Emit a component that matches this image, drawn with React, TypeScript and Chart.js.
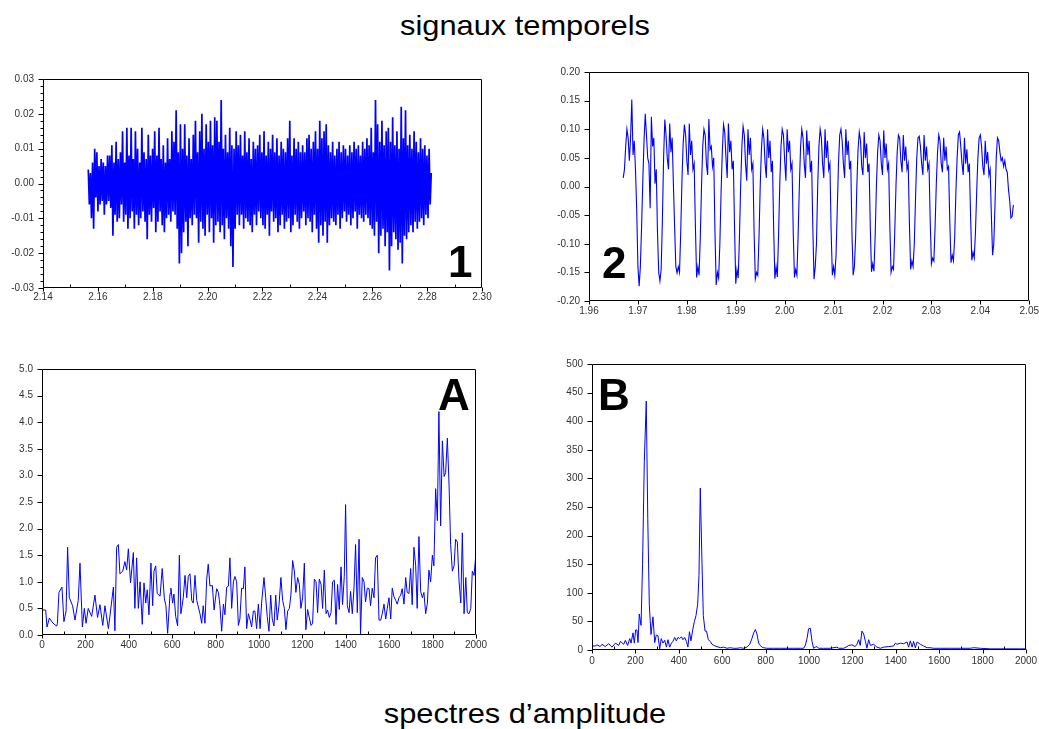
import React, { useEffect, useRef } from 'react';
import { Chart, registerables } from 'chart.js';

Chart.register(...registerables);

// ---------- Panel 1 : signal temporel (bruit) ----------
const sig1Start = 2.1565;
const sig1Step = 0.000390625;
const sig1Values = [
  .004,-.006,.003,-.010,.006,-.013,.010,-.004,.009,-.008,.005,-.006,.007,-.005,.006,-.009,.005,-.006,.008,-.005,
  .008,-.007,.011,-.015,.006,-.009,.012,-.011,.007,-.010,.009,-.006,.015,-.011,.006,-.009,.016,-.013,.008,-.010,
  .016,-.008,.007,-.013,.015,-.009,.010,-.012,.006,-.010,.016,-.008,.009,-.011,.007,-.016,.014,-.009,.008,-.011,
  .010,-.007,.015,-.014,.008,-.011,.016,-.008,.007,-.012,.011,-.014,.006,-.010,.013,-.009,.007,-.011,.015,-.008,
  .012,-.009,.021,-.013,.009,-.023,.017,-.020,.010,-.014,.017,-.011,.008,-.018,.013,-.010,.007,-.012,.014,-.009,
  .018,-.010,.009,-.017,.015,-.011,.020,-.013,.010,-.015,.017,-.009,.012,-.014,.018,-.010,.011,-.017,.019,-.012,
  .018,-.011,.012,-.014,.024,-.012,.010,-.016,.014,-.010,.009,-.013,.016,-.018,.011,-.024,.010,-.013,.015,-.009,
  .011,-.012,.014,-.009,.008,-.013,.015,-.010,.009,-.011,.013,-.012,.007,-.014,.012,-.009,.010,-.012,.011,-.008,
  .014,-.010,.009,-.012,.015,-.013,.008,-.009,.012,-.015,.010,-.008,.014,-.011,.009,-.010,.013,-.014,.008,-.012,
  .012,-.009,.010,-.013,.009,-.011,.013,-.010,.018,-.014,.008,-.012,.013,-.009,.010,-.011,.012,-.013,.009,-.010,
  .011,-.008,.009,-.012,.013,-.010,.014,-.011,.010,-.014,.012,-.009,.015,-.013,.010,-.017,.018,-.012,.013,-.015,
  .015,-.011,.017,-.017,.011,-.012,.009,-.010,.012,-.011,.008,-.012,.010,-.009,.012,-.013,.009,-.010,.011,-.008,
  .010,-.011,.008,-.009,.011,-.012,.009,-.010,.012,-.008,.010,-.013,.011,-.009,.008,-.010,.012,-.011,.010,-.009,
  .013,-.010,.011,-.012,.016,-.013,.009,-.015,.024,-.011,.017,-.020,.012,-.015,.018,-.013,.011,-.018,.015,-.014,
  .016,-.025,.012,-.018,.019,-.014,.011,-.016,.015,-.019,.010,-.017,.022,-.023,.013,-.015,.021,-.016,.011,-.014,
  .014,-.012,.010,-.014,.015,-.011,.012,-.013,.009,-.011,.013,-.010,.010,-.012,.011,-.009,.008,-.010,.010,-.006,
  .003,
];

// ---------- Panel 2 : signal temporel (périodique) ----------
const sig2Start = 1.967;
const sig2Step = 0.00025;
const sig2Values = [
  .015,.03,.07,.10,.085,.045,.085,.152,.055,.08,.03,-.04,-.14,
  -.174,-.14,-.07,.01,.08,.127,.09,.05,.04,-.038,.122,.07,.085,.005,.03,-.08,-.15,
  -.165,-.145,-.06,.05,.117,.09,.05,.03,.11,.06,.085,.005,-.07,-.14,
  -.151,-.14,-.15,-.08,.01,.075,.108,.09,.045,.02,.11,.055,.08,.03,.04,-.07,
  -.159,-.14,-.155,-.09,0,.07,.10,.09,.04,.02,.118,.065,.07,.035,.05,-.08,
  -.172,-.15,-.16,-.10,-.01,.06,.108,.095,.05,.015,.11,.06,.08,.03,.045,-.07,
  -.170,-.145,-.16,-.09,0,.07,.105,.09,.04,.01,.10,.055,.085,.03,.04,-.08,
  -.161,-.15,-.155,-.09,0,.065,.10,.085,.04,.015,.10,.05,.08,.025,.045,-.075,
  -.161,-.14,-.158,-.085,.005,.07,.10,.09,.045,.01,.10,.06,.08,.03,.04,-.08,
  -.159,-.145,-.155,-.085,0,.07,.10,.085,.04,.015,.098,.055,.08,.025,.045,-.07,
  -.162,-.14,-.10,0,.07,.10,.085,.04,.015,.10,.05,.08,.03,.04,-.08,
  -.155,-.14,-.155,-.12,-.04,.04,.09,.10,.08,.04,.015,.10,.055,.08,.03,.045,-.08,
  -.155,-.14,-.09,0,.065,.095,.08,.035,.02,.095,.05,.075,.025,.04,-.07,
  -.149,-.135,-.148,-.085,0,.06,.09,.08,.04,.02,.098,.05,.075,.03,.04,-.07,
  -.150,-.14,-.145,-.08,0,.06,.09,.085,.045,.025,.09,.045,.07,.03,.04,-.065,
  -.145,-.13,-.14,-.10,-.02,.05,.085,.088,.07,.04,.02,.09,.045,.07,.03,.04,-.06,
  -.135,-.125,-.13,-.07,.005,.06,.09,.08,.04,.025,.085,.045,.07,.03,.035,-.06,
  -.133,-.12,-.13,-.09,-.01,.05,.09,.095,.07,.04,.02,.085,.04,.065,.025,.04,-.05,
  -.129,-.115,-.125,-.08,-.01,.05,.085,.09,.07,.035,.02,.08,.04,.06,.02,.03,-.05,
  -.12,-.10,-.03,.05,.085,.08,.06,.045,.05,.035,.045,.03,.025,-.005,-.025,-.055,-.052,-.032,
];

// ---------- Panel A : spectre d'amplitude ----------
const freqA = [
  0,17,23,34,45,57,68,71,78,92,
  101,111,118,126,141,152,167,175,186,195,
  203,213,229,244,256,267,280,290,306,329,
  336,344,352,359,372,382,390,398,408,421,
  428,436,444,452,462,470,478,485,493,502,
  510,516,524,531,544,554,564,571,579,590,
  594,602,608,616,625,633,640,651,659,667,
  674,682,690,697,705,713,728,736,743,751,
  759,766,774,785,793,805,813,820,828,836,
  843,851,859,866,874,882,889,897,905,912,
  920,928,935,943,951,958,966,974,981,989,
  997,1005,1012,1023,1031,1038,1046,1054,1061,1069,
  1077,1084,1092,1101,1109,1117,1124,1132,1140,1147,
  1155,1163,1170,1178,1186,1193,1201,1209,1216,1224,
  1232,1240,1247,1255,1263,1270,1278,1286,1293,1301,
  1309,1316,1324,1332,1339,1347,1355,1362,1370,1378,
  1385,1393,1399,1407,1415,1422,1430,1438,1445,1453,
  1461,1468,1476,1484,1491,1499,1507,1514,1522,1530,
  1537,1545,1553,1561,1568,1576,1584,1591,1599,1607,
  1614,1622,1630,1637,1645,1653,1660,1668,1676,1683,
  1691,1699,1706,1714,1722,1729,1737,1745,1753,1760,
  1768,1776,1783,1791,1799,1806,1814,1822,1829,1837,
  1845,1853,1860,1868,1876,1883,1891,1899,1906,1914,
  1922,1930,1937,1945,1953,1960,1968,1976,1983,1991,
  2000,
];
const ampA = [
  .47,.47,.15,.32,.25,.2,.17,.22,.8,.9,
  .25,.45,1.65,.7,.55,.28,.65,1.35,.15,.5,
  .22,.5,.35,.75,.33,.57,.18,.55,.12,.9,
  .08,1.65,1.7,1.15,1.2,1.38,1.22,1.62,.98,1.55,
  .5,1.45,.5,1.0,.2,.98,.6,.85,.38,1.35,
  .55,1.2,1.3,.78,.73,1.25,.68,.55,.03,.78,
  .88,.6,.77,.35,.17,1.5,.4,.7,1.12,.7,
  1.1,1.15,.65,.6,1.12,.65,.4,.22,.55,.22,
  1.05,1.33,.92,.93,.47,.87,.8,.55,.07,.58,
  .38,.9,.92,1.45,.5,1.0,1.1,1.0,.18,.3,
  .88,.87,1.28,.12,.4,.3,.15,.45,.45,.12,
  .58,.12,.6,1.08,.7,.35,.07,.75,.3,.17,
  .75,.28,.55,1.08,.65,.5,.1,.45,.5,.75,
  1.4,1.2,.8,1.08,.95,.5,.7,1.35,.1,.48,
  .32,.18,.22,1.05,1.0,.42,1.05,.95,.5,1.22,
  .4,.47,.33,.42,1.0,1.03,.2,.95,.48,1.28,
  .57,1.1,2.45,.55,.42,.82,.4,.9,1.7,.42,
  1.8,.02,1.08,1.0,.62,.88,.87,.55,.88,.7,
  1.45,1.5,.28,.28,.4,.58,.3,.5,.7,.3,
  .88,.72,.65,.58,.7,.75,.87,.58,1.08,.8,
  .78,1.25,.57,1.65,1.3,.5,1.85,.82,.7,.8,
  .4,.6,1.22,1.0,1.5,1.3,2.75,2.15,4.2,2.05,
  3.65,2.98,3.05,3.7,2.8,1.7,1.2,1.3,1.8,1.75,
  1.0,.6,1.92,.4,1.08,.42,.4,.5,1.2,1.12,
  1.55,
];

// ---------- Panel B : spectre d'amplitude ----------
const freqB = [
  0,15,23,38,46,61,77,92,108,123,
  131,146,154,164,174,180,189,195,201,207,
  212,218,226,233,241,250,257,264,272,281,
  289,296,304,312,319,327,335,343,350,358,
  366,373,381,389,396,404,412,419,427,435,
  442,449,456,464,472,479,487,493,499,507,
  513,521,528,536,545,553,561,576,591,607,
  622,637,653,668,684,699,714,727,737,745,
  753,760,768,776,783,791,806,837,868,899,
  929,960,975,983,991,998,1006,1014,1021,1029,
  1037,1044,1068,1098,1129,1137,1160,1175,1183,1198,
  1213,1221,1229,1236,1244,1252,1260,1267,1275,1283,
  1298,1313,1329,1344,1367,1390,1398,1405,1421,1436,
  1452,1459,1467,1475,1482,1490,1498,1513,1528,1544,
  1559,1574,1605,1651,1697,1743,1759,1790,1836,1882,
  1928,1974,2000,
];
const ampB = [
  7,7,9,6,10,6,11,5,12,8,
  15,10,17,8,20,12,30,12,35,35,
  13,63,43,150,330,435,230,80,27,58,
  13,26,25,2,20,12,17,5,18,5,
  12,15,22,16,22,20,23,18,22,15,
  5,32,16,35,50,60,80,130,283,150,
  60,33,33,18,15,10,8,6,4,5,
  3,4,3,3,4,3,5,10,20,30,
  36,28,12,8,5,4,3,3,3,3,
  3,3,3,8,20,37,38,15,3,5,
  6,3,3,3,5,3,3,6,8,9,
  6,10,18,8,33,28,15,3,18,8,
  10,5,3,5,6,7,12,10,12,11,
  14,5,16,5,15,4,14,10,7,4,
  4,3,3,3,3,3,4,3,2,2,
  2,2,2,
];

// ---------- layout ----------
const FONT = '"Liberation Sans", Arial, Helvetica, sans-serif';
const BLUE = '#0000ff';

type Pt = { x: number; y: number };

interface Panel {
  left: number; top: number; w: number; h: number;
  padTop: number; padRight: number; yWidth: number; xHeight: number;
  xMin: number; xMax: number; xStep: number; xDec: number; xMinor: number;
  yMin: number; yMax: number; yStep: number; yDec: number; yMinor: number;
  xPad: number; lineWidth: number;
  points: Pt[];
}

const pts1: Pt[] = sig1Values.map((v, i) => ({ x: sig1Start + i * sig1Step, y: v }));
const pts2: Pt[] = sig2Values.map((v, i) => ({ x: sig2Start + i * sig2Step, y: v }));
const ptsA: Pt[] = freqA.map((f, i) => ({ x: f, y: ampA[i] }));
const ptsB: Pt[] = freqB.map((f, i) => ({ x: f, y: ampB[i] }));

const panels: Panel[] = [
  { left: 0, top: 60, w: 500, h: 250, padTop: 19, padRight: 18, yWidth: 43, xHeight: 22,
    xMin: 2.14, xMax: 2.30, xStep: 0.02, xDec: 2, xMinor: 0.01,
    yMin: -0.03, yMax: 0.03, yStep: 0.01, yDec: 2, yMinor: 0.002, xPad: -1, lineWidth: 1.7, points: pts1 },
  { left: 540, top: 55, w: 499, h: 270, padTop: 17, padRight: 9, yWidth: 49, xHeight: 24,
    xMin: 1.96, xMax: 2.05, xStep: 0.01, xDec: 2, xMinor: 0,
    yMin: -0.20, yMax: 0.20, yStep: 0.05, yDec: 2, yMinor: 0, xPad: 0, lineWidth: 1.1, points: pts2 },
  { left: 0, top: 350, w: 500, h: 310, padTop: 19, padRight: 24, yWidth: 42, xHeight: 25,
    xMin: 0, xMax: 2000, xStep: 200, xDec: 0, xMinor: 100,
    yMin: 0, yMax: 5, yStep: 0.5, yDec: 1, yMinor: 0, xPad: 0.5, lineWidth: 1, points: ptsA },
  { left: 540, top: 345, w: 499, h: 325, padTop: 19, padRight: 13, yWidth: 52, xHeight: 20,
    xMin: 0, xMax: 2000, xStep: 200, xDec: 0, xMinor: 100,
    yMin: 0, yMax: 500, yStep: 50, yDec: 0, yMinor: 0, xPad: 1, lineWidth: 1, points: ptsB },
];

const fmt = (v: number, d: number) => (Math.abs(v) < 1e-9 ? 0 : v).toFixed(d);

function makeFrame(p: Panel) {
  return {
    id: 'frameTicks',
    afterDraw(chart: any) {
      const { ctx, chartArea: a } = chart;
      const xs = chart.scales.x;
      const ys = chart.scales.y;
      const L = Math.round(a.left) + 0.5;
      const R = Math.round(a.right) - 0.5;
      const T = Math.round(a.top) + 0.5;
      const B = Math.round(a.bottom) - 0.5;
      ctx.save();
      ctx.strokeStyle = '#000';
      ctx.lineWidth = 1;
      ctx.beginPath();
      ctx.rect(L, T, R - L, B - T);
      xs.ticks.forEach((t: any) => {
        const x = Math.round(xs.getPixelForValue(t.value)) + 0.5;
        ctx.moveTo(x, B); ctx.lineTo(x, B + 4);
      });
      ys.ticks.forEach((t: any) => {
        const y = Math.round(ys.getPixelForValue(t.value)) + 0.5;
        ctx.moveTo(L, y); ctx.lineTo(L - 5, y);
      });
      if (p.xMinor) {
        const n = Math.round((p.xMax - p.xMin) / p.xMinor);
        for (let i = 0; i <= n; i++) {
          const v = p.xMin + i * p.xMinor;
          const k = (v - p.xMin) / p.xStep;
          if (Math.abs(k - Math.round(k)) < 1e-6) continue;
          const x = Math.round(xs.getPixelForValue(v)) + 0.5;
          ctx.moveTo(x, B); ctx.lineTo(x, B - 3);
        }
      }
      if (p.yMinor) {
        const n = Math.round((p.yMax - p.yMin) / p.yMinor);
        for (let i = 0; i <= n; i++) {
          const v = p.yMin + i * p.yMinor;
          const k = (v - p.yMin) / p.yStep;
          if (Math.abs(k - Math.round(k)) < 1e-6) continue;
          const y = Math.round(ys.getPixelForValue(v)) + 0.5;
          ctx.moveTo(L, y); ctx.lineTo(L - 3, y);
        }
      }
      ctx.stroke();
      ctx.restore();
    },
  };
}

function PanelChart({ p }: { p: Panel }) {
  const ref = useRef<HTMLCanvasElement>(null);
  useEffect(() => {
    const canvas = ref.current;
    if (!canvas) return;
    const tickFont = { family: FONT, size: 10 };
    const chart = new Chart(canvas, {
      type: 'line',
      data: {
        datasets: [{
          data: p.points,
          borderColor: BLUE,
          borderWidth: p.lineWidth,
          pointRadius: 0,
          fill: false,
          tension: 0,
        }],
      },
      options: {
        animation: false,
        responsive: false,
        maintainAspectRatio: false,
        events: [],
        layout: { padding: { top: p.padTop, right: p.padRight, left: 0, bottom: 0 } },
        plugins: { legend: { display: false }, tooltip: { enabled: false }, title: { display: false } },
        scales: {
          x: {
            type: 'linear',
            min: p.xMin,
            max: p.xMax,
            afterFit: (s: any) => { s.height = p.xHeight; },
            grid: { display: false, drawTicks: true, tickLength: 4 },
            border: { display: false },
            ticks: {
              stepSize: p.xStep,
              autoSkip: false,
              maxRotation: 0,
              minRotation: 0,
              padding: p.xPad,
              color: '#333',
              font: tickFont,
              callback: (v: any) => fmt(Number(v), p.xDec),
            },
          },
          y: {
            type: 'linear',
            min: p.yMin,
            max: p.yMax,
            afterFit: (s: any) => { s.width = p.yWidth; },
            grid: { display: false, drawTicks: true, tickLength: 5 },
            border: { display: false },
            ticks: {
              stepSize: p.yStep,
              autoSkip: false,
              padding: 4,
              color: '#333',
              font: tickFont,
              callback: (v: any) => fmt(Number(v), p.yDec),
            },
          },
        },
      } as any,
      plugins: [makeFrame(p)],
    });
    return () => chart.destroy();
  }, [p]);
  return (
    <canvas
      ref={ref}
      width={p.w}
      height={p.h}
      style={{ position: 'absolute', left: p.left, top: p.top, width: p.w, height: p.h }}
    />
  );
}

const bigLabel = (text: string, left: number, top: number) => (
  <div
    key={text}
    style={{
      position: 'absolute', left, top, fontFamily: FONT, fontWeight: 'bold',
      fontSize: 44, lineHeight: '44px', color: '#000', whiteSpace: 'nowrap',
    }}
  >
    {text}
  </div>
);

export default function App() {
  return (
    <div
      style={{
        position: 'absolute', left: 0, top: 0, width: 1039, height: 729,
        background: '#fff', overflow: 'hidden', fontFamily: FONT,
      }}
    >
      <div
        style={{
          position: 'absolute', left: 325, width: 400, top: 12, textAlign: 'center',
          fontSize: 28, lineHeight: '28px', color: '#000', transform: 'scaleX(1.1)', whiteSpace: 'nowrap',
        }}
      >
        signaux temporels
      </div>
      {panels.map((p, i) => <PanelChart key={i} p={p} />)}
      {bigLabel('1', 448, 240)}
      {bigLabel('2', 602, 241)}
      {bigLabel('A', 438, 373)}
      {bigLabel('B', 598, 373)}
      <div
        style={{
          position: 'absolute', left: 325, width: 400, top: 700, textAlign: 'center',
          fontSize: 28, lineHeight: '28px', color: '#000', transform: 'scaleX(1.1)', whiteSpace: 'nowrap',
        }}
      >
        spectres d’amplitude
      </div>
    </div>
  );
}
